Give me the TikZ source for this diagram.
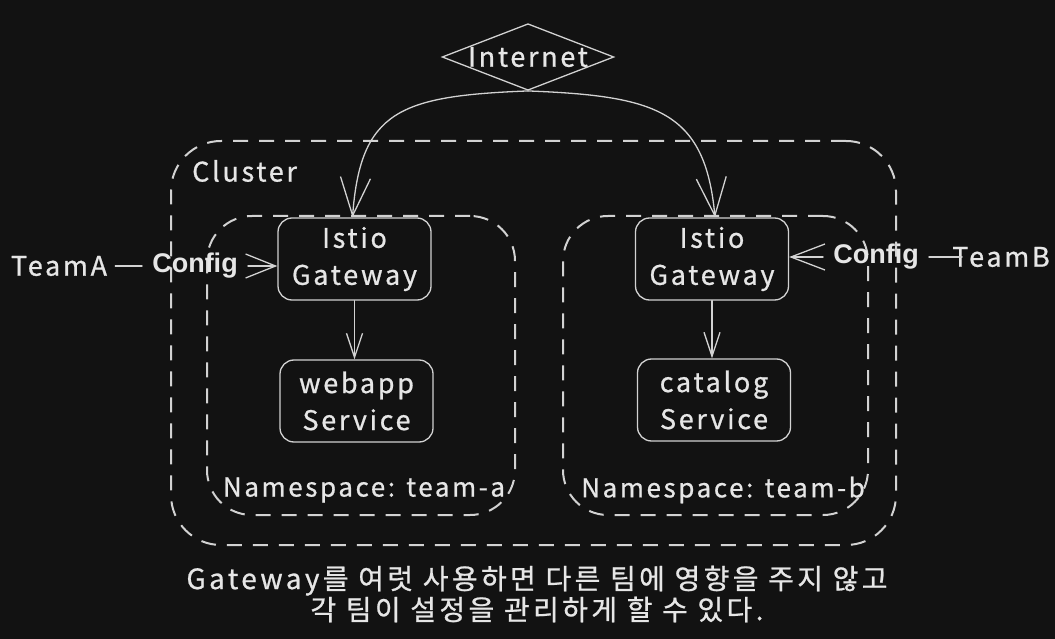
\documentclass[tikz,border=0pt]{standalone}
\usepackage{fontspec}
\usetikzlibrary{arrows.meta,shapes.geometric}
\newfontfamily\hand[LetterSpace=10,FakeBold=0.8]{Noto Sans CJK KR}
\newfontfamily\capfont[LetterSpace=12,FakeBold=0.8]{Noto Sans CJK KR}
\newfontfamily\cfgfont{Liberation Sans}
\definecolor{bgc}{HTML}{121212}
\definecolor{ink}{HTML}{D2D2D2}
\definecolor{txt}{HTML}{E6E6E6}
\begin{document}
\begin{tikzpicture}[x=1pt,y=-1pt,
  lbl/.style={text=txt,font=\hand\fontsize{27}{37}\selectfont,inner sep=0pt},
  cfg/.style={text=txt,font=\cfgfont\bfseries\fontsize{27}{30}\selectfont,inner sep=0pt},
  cont/.style={draw=ink,line width=2pt,dash pattern=on 15pt off 11pt,inner sep=0pt},
  box/.style={lbl,draw=ink,line width=1.3pt,rounded corners=14pt,minimum width=153pt,minimum height=82pt,align=center},
  ln/.style={draw=ink,line width=1.3pt,line cap=round,line join=round},
  capt/.style={text=txt,font=\capfont\fontsize{28}{31}\selectfont,align=center,inner sep=0pt}]
\fill[bgc] (0,0) rectangle (1055,639);
\useasboundingbox (0,0) rectangle (1055,639);
% containers
\node[cont,rounded corners=50pt,minimum width=725pt,minimum height=404pt] (cluster) at (533.5,343) {};
\node[cont,rounded corners=45pt,minimum width=308pt,minimum height=299pt] (nsA) at (361,365.5) {};
\node[cont,rounded corners=45pt,minimum width=305pt,minimum height=299pt] (nsB) at (715.5,365.5) {};
\node[lbl,anchor=west] (clusterlbl) at (192,171) {Cluster};
\node[lbl,font=\hand\fontsize{26}{30}\selectfont] (nsAlbl) at (364,490) {Namespace: team-a};
\node[lbl,font=\hand\fontsize{26}{30}\selectfont] (nsBlbl) at (723,490) {Namespace: team-b};
% internet
\node[lbl,diamond,draw=ink,line width=1.3pt,aspect=2.58,minimum width=170pt,minimum height=66pt] (inet) at (528,57) {Internet};
% boxes
\node[box] (gwA) at (354.5,259) {Istio\\Gateway};
\node[box] (webapp) at (356.5,401) {webapp\\Service};
\node[box] (gwB) at (712,259) {Istio\\Gateway};
\node[box] (catalog) at (714,400) {catalog\\Service};
% teams
\node[lbl] (teamA) at (59,266) {TeamA};
\node[cfg] (cfgA) at (195,266) {Config};
\node[cfg] (cfgB) at (876,257) {Config};
\node[lbl] (teamB) at (1001,257) {TeamB};
% connectors
\draw[ln,-{Straight Barb[length=38pt,width=30pt]}] (inet.south) .. controls +(-128,5) and +(8,-107) .. ([xshift=-2pt]gwA.north);
\draw[ln,-{Straight Barb[length=38pt,width=30pt]}] (inet.south) .. controls +(128,5) and +(-10,-107) .. ([xshift=3pt]gwB.north);
\draw[ln,-{Straight Barb[length=24pt,width=16pt]}] (gwA.south) -- (webapp.north -| gwA.south);
\draw[ln,-{Straight Barb[length=24pt,width=16pt]}] (gwB.south) -- (catalog.north -| gwB.south);
\draw[ln,shorten <=8pt,shorten >=10pt] (teamA.east) -- (cfgA.west);
\draw[ln,shorten <=10pt,-{Straight Barb[length=30pt,width=24pt]}] (cfgA.east) -- (cfgA.east -| gwA.west);
\draw[ln,shorten <=10pt,-{Straight Barb[length=34pt,width=26pt]}] (cfgB.west) -- (cfgB.west -| gwB.east);
\draw[ln,shorten <=10pt,shorten >=-10pt] (cfgB.east) -- (teamB.west);
% caption
\node[capt] (caption) at (537,594) {Gateway를 여럿 사용하면 다른 팀에 영향을 주지 않고\\각 팀이 설정을 관리하게 할 수 있다.};
\end{tikzpicture}
\end{document}
